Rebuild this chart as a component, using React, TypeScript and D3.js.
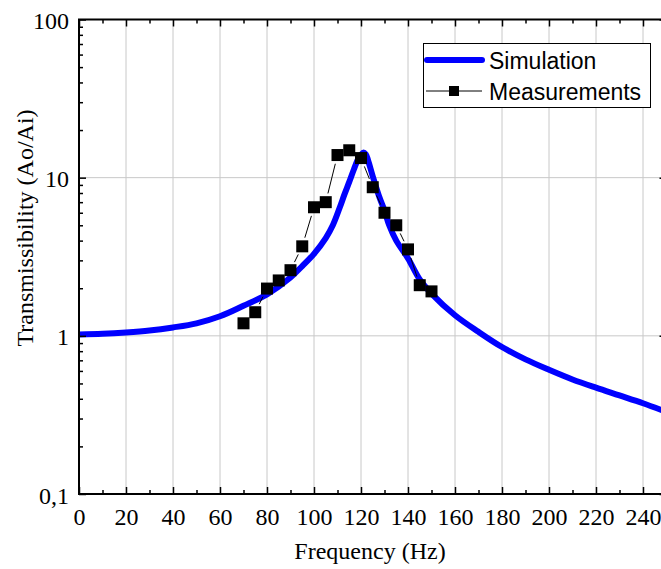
import { useEffect, useRef } from 'react';
import * as d3 from 'd3';

const width = 661;
const height = 569;
const [mt, mb, ml] = [19.5, 75, 79];
const plotRight = 666.5;

// Simulation curve
const simFreq = [0, 10, 20, 30, 40, 50, 60, 70, 80, 90, 95, 100, 105, 108, 111, 113, 115, 117, 119, 121, 122, 123, 125, 128, 130, 132, 135, 140, 145, 150, 160, 170, 180, 190, 200, 210, 220, 230, 240, 250];
const simValue = [1.02, 1.03, 1.05, 1.08, 1.13, 1.2, 1.33, 1.55, 1.83, 2.34, 2.76, 3.3, 4.15, 5.0, 6.5, 7.87, 9.4, 11.3, 13.3, 14.4, 14.1, 12.9, 10.2, 7.4, 6.2, 5.0, 4.0, 3.09, 2.27, 1.85, 1.35, 1.06, 0.85, 0.71, 0.61, 0.53, 0.47, 0.42, 0.375, 0.33];

// Measurements
const measFreq = [70, 75, 80, 85, 90, 95, 100, 105, 110, 115, 120, 125, 130, 135, 140, 145, 150];
const measValue = [1.2, 1.41, 1.99, 2.24, 2.6, 3.68, 6.5, 7.0, 13.9, 14.9, 13.3, 8.7, 6.0, 5.0, 3.52, 2.09, 1.91];

const xMajor = d3.range(0, 241, 20);
const xMinor = d3.range(10, 251, 20);
const yMajor = [0.1, 1, 10, 100];
const yLabels = ['0,1', '1', '10', '100'];

const serif = "'Liberation Serif', 'Times New Roman', serif";
const sans = "'Liberation Sans', Arial, sans-serif";

function App() {
    const ref = useRef<SVGSVGElement>(null);

    useEffect(() => {
        const svg = d3.select(ref.current);
        svg.selectAll('*').remove();

        const x = d3.scaleLinear().domain([0, 250]).range([ml, plotRight]);
        const y = d3.scaleLog().domain([0.1, 100]).range([height - mb, mt]);
        const yMinor: number[] = [];
        [0.1, 1, 10].forEach((d) => d3.range(2, 10).forEach((k) => yMinor.push(d * k)));

        // grid
        const grid = svg.append('g').attr('stroke', '#c8c8c8').attr('stroke-width', 1);
        grid.selectAll('.gx')
            .data(xMajor.slice(1))
            .join('line')
            .attr('x1', (d) => x(d))
            .attr('x2', (d) => x(d))
            .attr('y1', mt)
            .attr('y2', height - mb);
        grid.selectAll('.gy')
            .data([1, 10])
            .join('line')
            .attr('x1', ml)
            .attr('x2', plotRight)
            .attr('y1', (d) => y(d))
            .attr('y2', (d) => y(d));

        // simulation curve
        const sim = simFreq.map((f, i) => [f, simValue[i]] as [number, number]);
        svg.append('path')
            .datum(sim)
            .attr('fill', 'none')
            .attr('stroke', '#0000ff')
            .attr('stroke-width', 6)
            .attr('stroke-linejoin', 'round')
            .attr('d', d3.line<[number, number]>().x((d) => x(d[0])).y((d) => y(d[1])).curve(d3.curveCatmullRom.alpha(0.5)));

        // measurements: thin connecting line with gaps around the markers
        const pts = measFreq.map((f, i) => [x(f), y(measValue[i])]);
        const gap = 9;
        const segs = [];
        for (let i = 0; i < pts.length - 1; i++) {
            const [x0, y0] = pts[i];
            const [x1, y1] = pts[i + 1];
            const len = Math.hypot(x1 - x0, y1 - y0);
            if (len <= 2 * gap) continue;
            const ux = (x1 - x0) / len;
            const uy = (y1 - y0) / len;
            segs.push([x0 + ux * gap, y0 + uy * gap, x1 - ux * gap, y1 - uy * gap]);
        }
        svg.append('g')
            .selectAll('line')
            .data(segs)
            .join('line')
            .attr('x1', (d) => d[0])
            .attr('y1', (d) => d[1])
            .attr('x2', (d) => d[2])
            .attr('y2', (d) => d[3])
            .attr('stroke', '#000')
            .attr('stroke-width', 1);
        const ms = 12;
        svg.append('g')
            .selectAll('rect')
            .data(measFreq.map((f, i) => [f, measValue[i]]))
            .join('rect')
            .attr('x', (d) => x(d[0]) - ms / 2)
            .attr('y', (d) => y(d[1]) - ms / 2)
            .attr('width', ms)
            .attr('height', ms)
            .attr('fill', '#000');

        // axes (ticks point inward)
        const styleAxis = (g) =>
            g.call((s) => s.select('.domain').remove())
                .call((s) => s.selectAll('.tick line').attr('stroke', '#000').attr('stroke-width', 1.5))
                .call((s) => s.selectAll('text').attr('font-family', serif).attr('font-size', 24).attr('fill', '#000'));

        svg.append('g')
            .attr('transform', `translate(0,${height - mb})`)
            .call(d3.axisBottom(x).tickValues(xMajor).tickSize(-7).tickPadding(14).tickFormat(d3.format('d')))
            .call(styleAxis);
        svg.append('g')
            .attr('transform', `translate(0,${height - mb})`)
            .call(d3.axisBottom(x).tickValues(xMinor).tickSize(-4).tickFormat(() => ''))
            .call(styleAxis);
        svg.append('g')
            .attr('transform', `translate(0,${mt})`)
            .call(d3.axisTop(x).tickValues(xMajor.concat([250])).tickSize(-7).tickFormat(() => ''))
            .call(styleAxis);
        svg.append('g')
            .attr('transform', `translate(0,${mt})`)
            .call(d3.axisTop(x).tickValues(xMinor).tickSize(-4).tickFormat(() => ''))
            .call(styleAxis);

        svg.append('g')
            .attr('transform', `translate(${ml},0)`)
            .call(d3.axisLeft(y).tickValues(yMajor).tickSize(-7).tickPadding(10).tickFormat((d, i) => yLabels[i]))
            .call(styleAxis)
            .call((g) => g.selectAll('text').attr('dy', '0.38em'));
        svg.append('g')
            .attr('transform', `translate(${ml},0)`)
            .call(d3.axisLeft(y).tickValues(yMinor).tickSize(-4).tickFormat(() => ''))
            .call(styleAxis);
        svg.append('g')
            .attr('transform', `translate(${plotRight},0)`)
            .call(d3.axisRight(y).tickValues(yMajor).tickSize(-7).tickFormat(() => ''))
            .call(styleAxis);
        svg.append('g')
            .attr('transform', `translate(${plotRight},0)`)
            .call(d3.axisRight(y).tickValues(yMinor).tickSize(-4).tickFormat(() => ''))
            .call(styleAxis);

        // frame
        svg.append('rect')
            .attr('x', ml)
            .attr('y', mt)
            .attr('width', plotRight - ml)
            .attr('height', height - mb - mt)
            .attr('fill', 'none')
            .attr('stroke', '#000')
            .attr('stroke-width', 2);

        // axis titles
        svg.append('text')
            .attr('x', (ml + 661) / 2)
            .attr('y', 559)
            .attr('text-anchor', 'middle')
            .attr('font-family', serif)
            .attr('font-size', 24)
            .text('Frequency (Hz)');
        svg.append('text')
            .attr('transform', 'translate(33,228) rotate(-90)')
            .attr('text-anchor', 'middle')
            .attr('font-family', serif)
            .attr('font-size', 24)
            .text('Transmissibility (Ao/Ai)');

        // legend
        const lg = svg.append('g');
        lg.append('rect')
            .attr('x', 423.5)
            .attr('y', 43.5)
            .attr('width', 227)
            .attr('height', 64)
            .attr('fill', '#fff')
            .attr('stroke', '#000')
            .attr('stroke-width', 1);
        lg.append('line')
            .attr('x1', 427)
            .attr('x2', 482)
            .attr('y1', 60)
            .attr('y2', 60)
            .attr('stroke', '#0000ff')
            .attr('stroke-width', 6)
            .attr('stroke-linecap', 'round');
        lg.append('line')
            .attr('x1', 426)
            .attr('x2', 482)
            .attr('y1', 91)
            .attr('y2', 91)
            .attr('stroke', '#000')
            .attr('stroke-width', 1);
        lg.append('rect')
            .attr('x', 449)
            .attr('y', 86)
            .attr('width', 10)
            .attr('height', 10)
            .attr('fill', '#000');
        lg.selectAll('text.lbl')
            .data(['Simulation', 'Measurements'])
            .join('text')
            .attr('x', 489)
            .attr('y', (d, i) => 68.5 + i * 31)
            .attr('font-family', sans)
            .attr('font-size', 23)
            .text((d) => d);
    }, []);

    return (
        <div style={{ position: 'absolute', left: 0, top: 0, width, height, background: '#fff' }}>
            <svg ref={ref} width={width} height={height} style={{ display: 'block' }} />
        </div>
    );
}

export default App;
